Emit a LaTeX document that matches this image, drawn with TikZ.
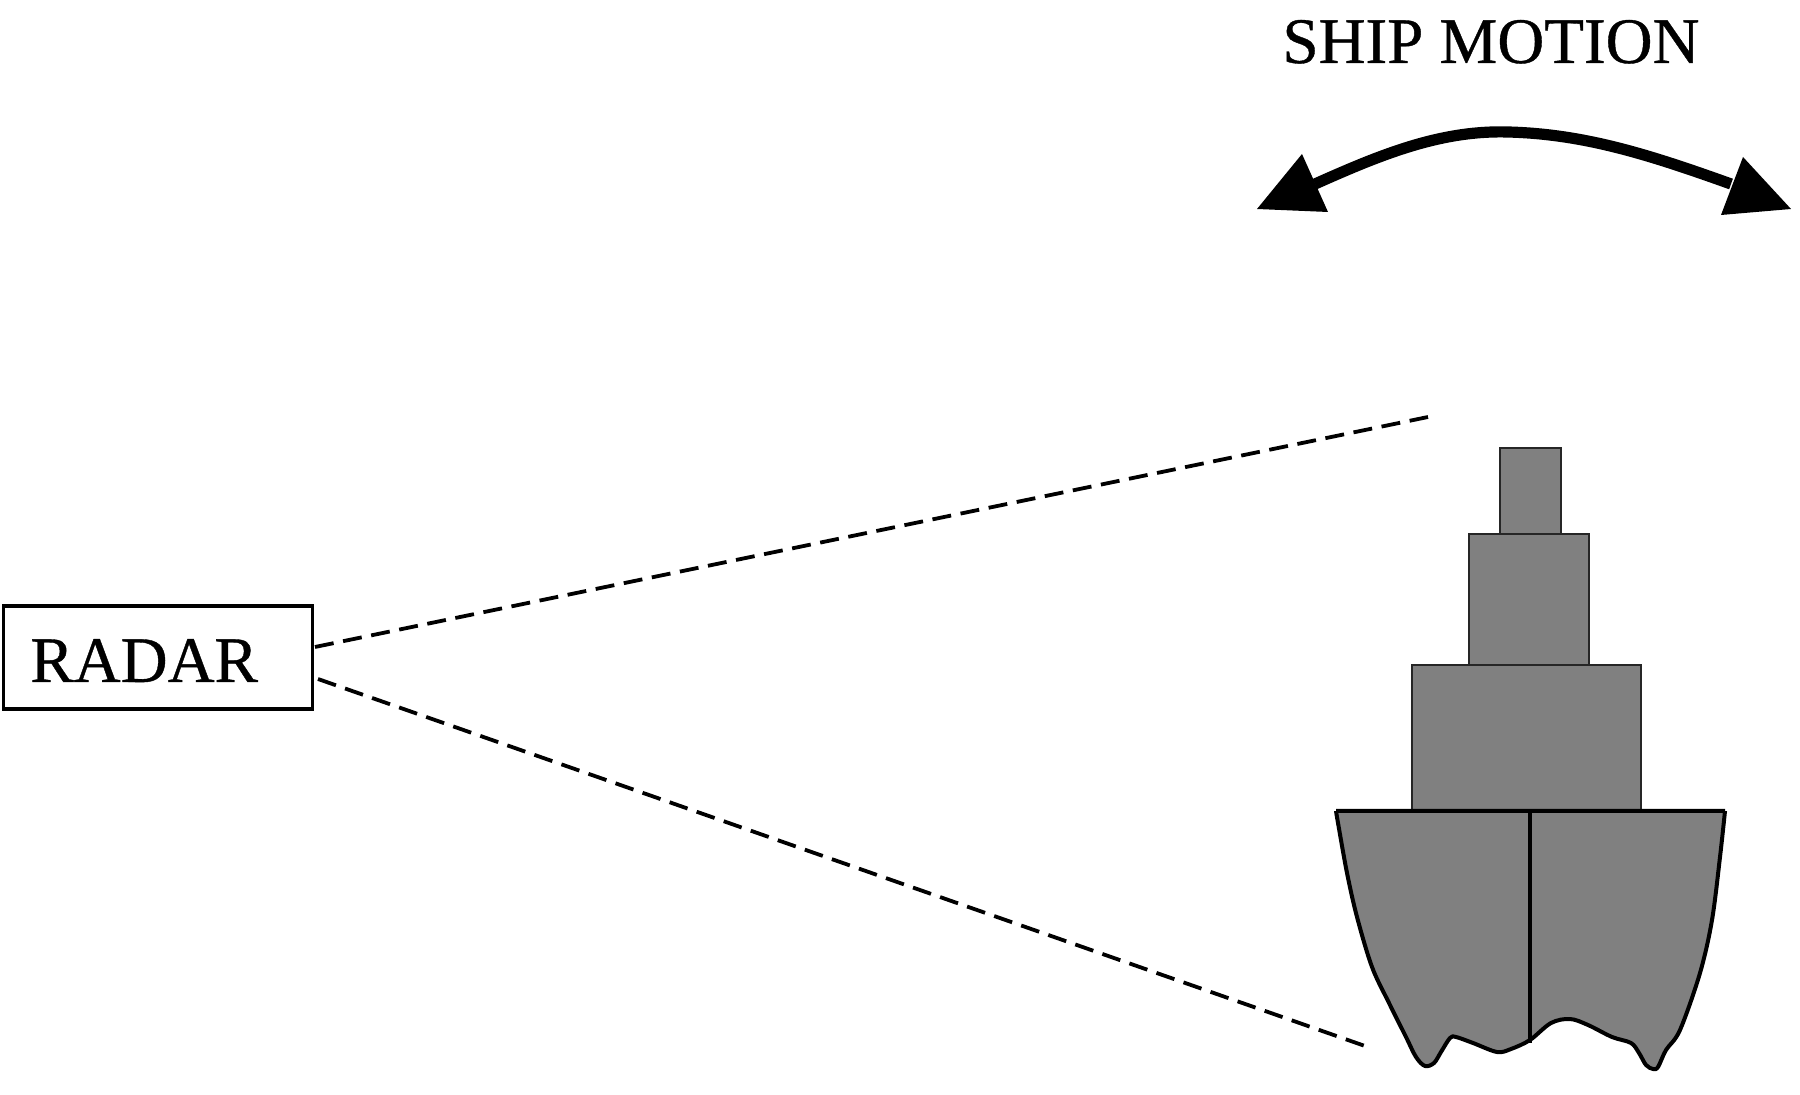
\documentclass[tikz,border=0pt]{standalone}
\usepackage{fontspec}
\setmainfont[FakeBold=0.6]{Liberation Serif}
\definecolor{shipgray}{gray}{0.5}
\tikzset{
  deck/.style={draw=black!85, fill=shipgray, line width=0.6pt},
  hull/.style={draw=black, fill=shipgray, line width=2pt, line join=round},
  keel/.style={draw=black, line width=1.8pt},
  radarbox/.style={draw=black, line width=1.9pt, fill=white, inner sep=0pt, minimum width=154.5pt, minimum height=51.5pt},
  caption/.style={inner sep=0pt, font=\fontsize{32.5}{36}\selectfont},
  beam/.style={draw=black, line width=1.9pt, dash pattern=on 9.5pt off 4.83pt},
  swing/.style={draw=black, line width=5.6pt},
  tiphead/.style={fill=black}
}
\begin{document}
\begin{tikzpicture}[x=0.5pt,y=-0.5pt]
\useasboundingbox (0,0) rectangle (1800,1095);
\fill[white] (0,0) rectangle (1800,1095);

% caption and rocking arrow
\node[caption, anchor=base] (motion) at (1491,63) {SHIP MOTION};
\coordinate (swingleft) at (1315,184);
\coordinate (swingtop) at (1508,132);
\coordinate (swingright) at (1731,184);
\draw[swing] (swingleft) .. controls (1380,155) and (1440,130) .. (swingtop)
  .. controls (1585,134) and (1650,155) .. (swingright);
\fill[tiphead] (1302,154) -- (1257,209) -- (1328,212) -- cycle;
\fill[tiphead] (1743,157) -- (1791,209) -- (1721,215) -- cycle;

% radar unit
\node[radarbox] (radar) at (158,657.5) {};
\node[caption, anchor=base west] (radarlabel) at (30,682) {RADAR};

% superstructure, stacked from the top down
\draw[deck] (1500,448) rectangle (1561,534);
\draw[deck] (1469,534) rectangle (1589,665);
\draw[deck] (1412,665) rectangle (1641,811);

% hull with a wavy waterline
\draw[hull] (1336,811) -- (1725,811)
  plot[smooth, tension=0.55] coordinates {
    (1725,811) (1720,857) (1712,920) (1700,973) (1680,1030) (1666,1050) (1658,1067)
    (1653,1069) (1646,1065) (1639,1053) (1631,1043) (1612,1037) (1588,1025) (1570,1019)
    (1551,1023) (1530,1040) (1511,1049) (1497,1052) (1473,1043) (1456,1037) (1450,1038)
    (1441,1052) (1434,1063) (1425,1066) (1416,1057) (1406,1037) (1389,1003) (1372,967)
    (1357,917) (1347,873) (1338,823) (1336,811)};
\draw[keel] (1530,811) -- (1530,1043);

% radar beam edges
\coordinate (beamtopstart) at (315,647);
\coordinate (beamtopend) at (1428,417);
\coordinate (beamlowstart) at (318,679);
\coordinate (beamlowend) at (1365,1046);
\draw[beam] (beamtopstart) -- (beamtopend);
\draw[beam] (beamlowstart) -- (beamlowend);
\end{tikzpicture}
\end{document}
